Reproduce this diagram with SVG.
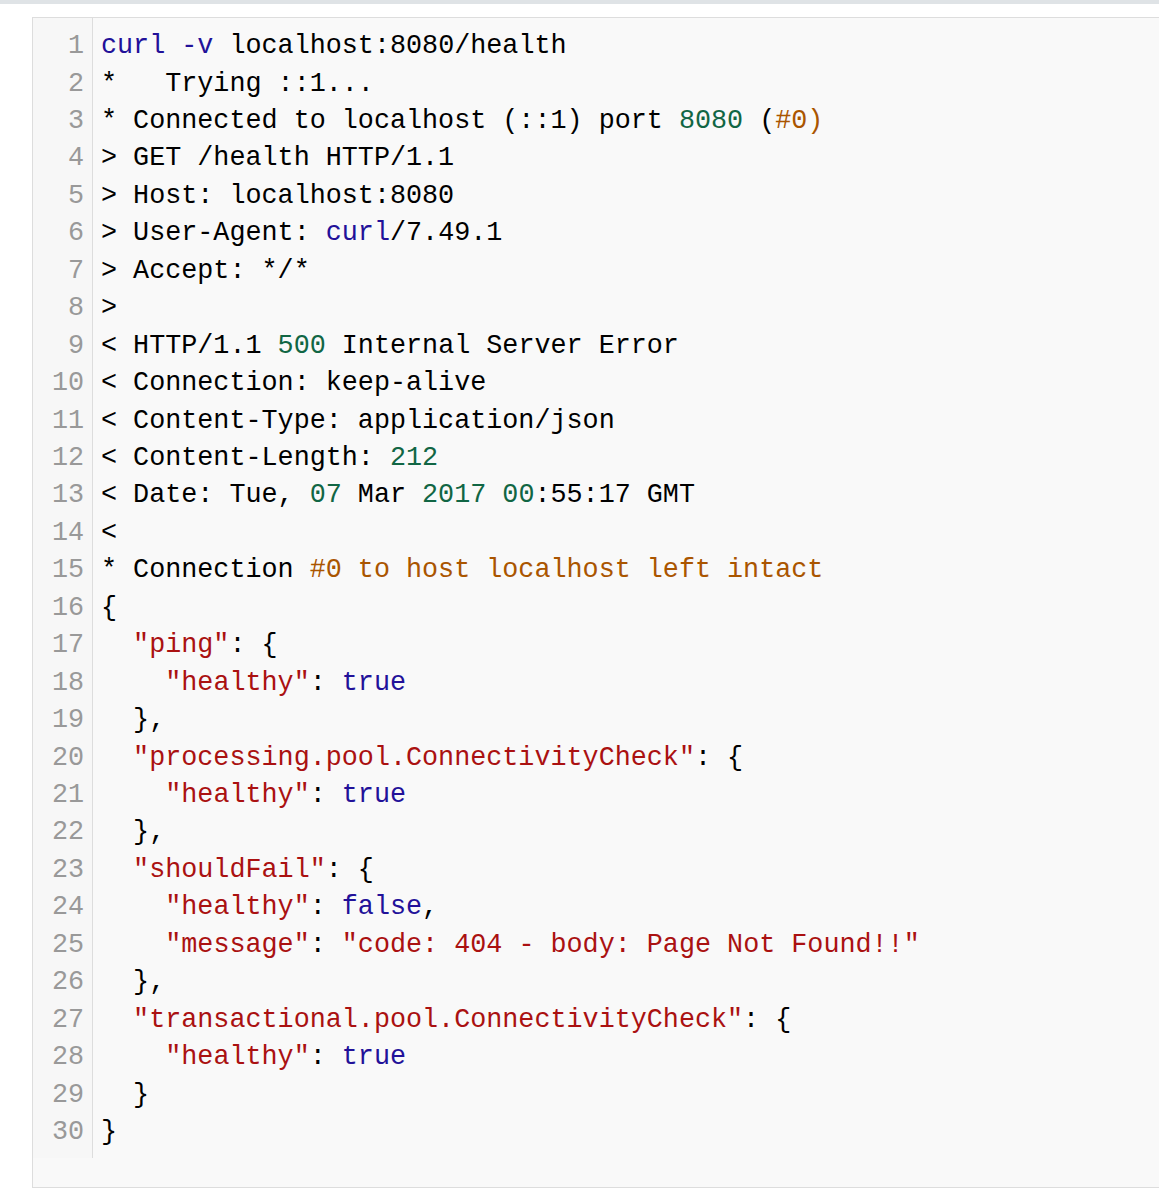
<svg xmlns="http://www.w3.org/2000/svg" width="1159" height="1200" viewBox="0 0 1159 1200">
<style>
text{font-family:"Liberation Mono","DejaVu Sans Mono",monospace;font-size:26.75px;fill:#000;white-space:pre}
.n{fill:#999;text-anchor:end}
.a{fill:#221199}.g{fill:#116644}.s{fill:#aa1111}.c{fill:#aa5500}
</style>
<rect width="1159" height="1200" fill="#fff"/>
<rect width="1159" height="4" fill="#dfe3e6"/>
<rect x="32.5" y="17.5" width="1140" height="1170" fill="#f9f9f9" stroke="#ddd"/>
<rect x="33" y="18" width="59" height="1140" fill="#f7f7f7"/>
<line x1="92.5" y1="18" x2="92.5" y2="1158" stroke="#ddd"/>
<g id="gutter">
<text class="n" x="84" y="53">1</text><text class="n" x="84" y="90.5">2</text><text class="n" x="84" y="128">3</text><text class="n" x="84" y="165.4">4</text><text class="n" x="84" y="202.8">5</text><text class="n" x="84" y="240.3">6</text><text class="n" x="84" y="277.7">7</text><text class="n" x="84" y="315.2">8</text><text class="n" x="84" y="352.6">9</text><text class="n" x="84" y="390">10</text><text class="n" x="84" y="427.5">11</text><text class="n" x="84" y="465">12</text><text class="n" x="84" y="502.4">13</text><text class="n" x="84" y="539.9">14</text><text class="n" x="84" y="577.3">15</text><text class="n" x="84" y="614.8">16</text><text class="n" x="84" y="652.2">17</text><text class="n" x="84" y="689.6">18</text><text class="n" x="84" y="727.1">19</text><text class="n" x="84" y="764.5">20</text><text class="n" x="84" y="802">21</text><text class="n" x="84" y="839.4">22</text><text class="n" x="84" y="876.9">23</text><text class="n" x="84" y="914.3">24</text><text class="n" x="84" y="951.8">25</text><text class="n" x="84" y="989.2">26</text><text class="n" x="84" y="1026.7">27</text><text class="n" x="84" y="1064.1">28</text><text class="n" x="84" y="1101.6">29</text><text class="n" x="84" y="1139">30</text>
</g>
<g id="code">
<text x="101" y="53"><tspan class="a">curl</tspan> <tspan class="a">-v</tspan> localhost:8080/health</text>
<text x="101" y="90.5">*   Trying ::1...</text>
<text x="101" y="128">* Connected to localhost (::1) port <tspan class="g">8080</tspan> (<tspan class="c">#0)</tspan></text>
<text x="101" y="165.4">&gt; GET /health HTTP/1.1</text>
<text x="101" y="202.8">&gt; Host: localhost:8080</text>
<text x="101" y="240.3">&gt; User-Agent: <tspan class="a">curl</tspan>/7.49.1</text>
<text x="101" y="277.7">&gt; Accept: */*</text>
<text x="101" y="315.2">&gt;</text>
<text x="101" y="352.6">&lt; HTTP/1.1 <tspan class="g">500</tspan> Internal Server Error</text>
<text x="101" y="390">&lt; Connection: keep-alive</text>
<text x="101" y="427.5">&lt; Content-Type: application/json</text>
<text x="101" y="465">&lt; Content-Length: <tspan class="g">212</tspan></text>
<text x="101" y="502.4">&lt; Date: Tue, <tspan class="g">07</tspan> Mar <tspan class="g">2017</tspan> <tspan class="g">00</tspan>:55:17 GMT</text>
<text x="101" y="539.9">&lt;</text>
<text x="101" y="577.3">* Connection <tspan class="c">#0 to host localhost left intact</tspan></text>
<text x="101" y="614.8">{</text>
<text x="101" y="652.2">  <tspan class="s">"ping"</tspan>: {</text>
<text x="101" y="689.6">    <tspan class="s">"healthy"</tspan>: <tspan class="a">true</tspan></text>
<text x="101" y="727.1">  },</text>
<text x="101" y="764.5">  <tspan class="s">"processing.pool.ConnectivityCheck"</tspan>: {</text>
<text x="101" y="802">    <tspan class="s">"healthy"</tspan>: <tspan class="a">true</tspan></text>
<text x="101" y="839.4">  },</text>
<text x="101" y="876.9">  <tspan class="s">"shouldFail"</tspan>: {</text>
<text x="101" y="914.3">    <tspan class="s">"healthy"</tspan>: <tspan class="a">false</tspan>,</text>
<text x="101" y="951.8">    <tspan class="s">"message"</tspan>: <tspan class="s">"code: 404 - body: Page Not Found!!"</tspan></text>
<text x="101" y="989.2">  },</text>
<text x="101" y="1026.7">  <tspan class="s">"transactional.pool.ConnectivityCheck"</tspan>: {</text>
<text x="101" y="1064.1">    <tspan class="s">"healthy"</tspan>: <tspan class="a">true</tspan></text>
<text x="101" y="1101.6">  }</text>
<text x="101" y="1139">}</text>
</g>
</svg>
